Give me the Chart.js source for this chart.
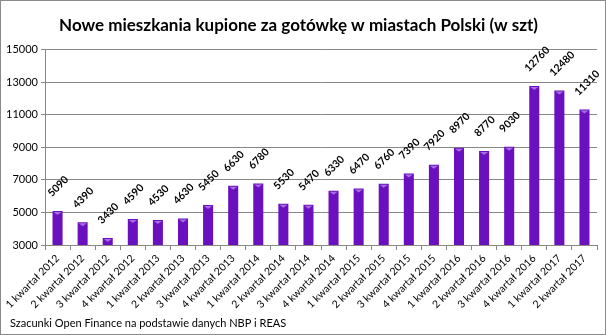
<!DOCTYPE html>
<html>
<head>
<meta charset="utf-8">
<script src="https://cdn.jsdelivr.net/npm/chart.js@4.4.1/dist/chart.umd.min.js"></script>
<style>
  html, body { margin: 0; padding: 0; background: #fff; }
  #c { display: block; }
</style>
</head>
<body>
<canvas id="c" width="606" height="335"></canvas>
<script>
const categories = [
  "1 kwartał 2012", "2 kwartał 2012", "3 kwartał 2012", "4 kwartał 2012",
  "1 kwartał 2013", "2 kwartał 2013", "3 kwartał 2013", "4 kwartał 2013",
  "1 kwartał 2014", "2 kwartał 2014", "3 kwartał 2014", "4 kwartał 2014",
  "1 kwartał 2015", "2 kwartał 2015", "3 kwartał 2015", "4 kwartał 2015",
  "1 kwartał 2016", "2 kwartał 2016", "3 kwartał 2016", "4 kwartał 2016",
  "1 kwartał 2017", "2 kwartał 2017"
];
const values = [
  5090, 4390, 3430, 4590,
  4530, 4630, 5450, 6630,
  6780, 5530, 5470, 6330,
  6470, 6760, 7390, 7920,
  8970, 8770, 9030, 12760,
  12480, 11310
];
const yTicks = [3000, 5000, 7000, 9000, 11000, 13000, 15000];
const titleText = "Nowe mieszkania kupione za gotówkę w miastach Polski (w szt)";
const footerText = "Szacunki Open Finance na podstawie danych NBP i REAS";

const FONT = "Lato, 'Liberation Sans', sans-serif";
const GRID = "#878787";

function barFill(ctx) {
  const chart = ctx.chart;
  const el = ctx.element;
  if (!chart.chartArea || !el || !isFinite(el.x) || !el.width) return "#6a10bf";
  const x0 = el.x - el.width / 2, x1 = el.x + el.width / 2;
  const g = chart.ctx.createLinearGradient(x0, 0, x1, 0);
  g.addColorStop(0, "#3f0474");
  g.addColorStop(0.35, "#6a12bd");
  g.addColorStop(0.55, "#7418c9");
  g.addColorStop(1, "#420578");
  return g;
}

const frame = {
  id: "frame",
  beforeDraw(chart) {
    const c = chart.ctx;
    c.save();
    c.fillStyle = "#fff";
    c.fillRect(0, 0, chart.width, chart.height);
    c.restore();
  },
  afterDraw(chart) {
    const c = chart.ctx;
    c.save();
    // footer note
    c.font = "11px " + FONT;
    c.fillStyle = "#000";
    c.textAlign = "left";
    c.textBaseline = "middle";
    c.fillText(footerText, 10, 323);
    // outer frame
    c.strokeStyle = "#8a8a8a";
    c.lineWidth = 1;
    c.strokeRect(0.5, 0.5, chart.width - 1, chart.height - 1);
    c.restore();
  }
};

const valueLabels = {
  id: "valueLabels",
  afterDatasetsDraw(chart) {
    const c = chart.ctx;
    const meta = chart.getDatasetMeta(0);
    c.save();
    c.font = "bold 10.5px " + FONT;
    c.textAlign = "left";
    c.textBaseline = "middle";
    meta.data.forEach((el, i) => {
      const w = el.width;
      c.fillStyle = "rgba(190,140,240,0.75)";
      c.beginPath();
      c.moveTo(el.x - w / 2 + 1, el.y + 1);
      c.lineTo(el.x + w / 2 - 1, el.y + 1);
      c.lineTo(el.x, el.y + 4);
      c.closePath();
      c.fill();
      c.fillStyle = "#000";
      c.save();
      c.translate(el.x - 8, el.y - 16);
      c.rotate(-Math.PI / 4);
      c.fillText(String(values[i]), 0, 0);
      c.restore();
    });
    c.restore();
  }
};

new Chart(document.getElementById("c"), {
  type: "bar",
  data: {
    labels: categories,
    datasets: [{
      data: values,
      backgroundColor: barFill,
      borderWidth: 0,
      barPercentage: 0.4,
      categoryPercentage: 1.0
    }]
  },
  options: {
    responsive: false,
    animation: false,
    devicePixelRatio: 1,
    layout: { padding: { left: 0, right: 9, top: 0, bottom: 24 } },
    plugins: {
      legend: { display: false },
      tooltip: { enabled: false },
      title: {
        display: true,
        text: titleText,
        color: "#000",
        font: { family: FONT, size: 17, weight: "bold" },
        padding: { top: 15, bottom: 14 }
      }
    },
    scales: {
      x: {
        grid: { display: true, drawOnChartArea: false, drawTicks: true, tickLength: 5, color: GRID, offset: true },
        border: { display: true, color: GRID, width: 1 },
        ticks: {
          color: "#000",
          font: { family: FONT, size: 10.5 },
          minRotation: 45,
          maxRotation: 45,
          autoSkip: false,
          padding: 2
        },
        afterFit(scale) { scale.height = 66; }
      },
      y: {
        min: 3000,
        max: 15000,
        afterBuildTicks(scale) { scale.ticks = yTicks.map(v => ({ value: v })); },
        grid: { color: GRID, tickLength: 4, drawTicks: true },
        border: { display: true, color: GRID, width: 1 },
        ticks: {
          color: "#000",
          font: { family: FONT, size: 11 },
          padding: 3,
          callback: v => String(v)
        },
        afterFit(scale) { scale.width = 45; }
      }
    }
  },
  plugins: [frame, valueLabels]
});
</script>
</body>
</html>
